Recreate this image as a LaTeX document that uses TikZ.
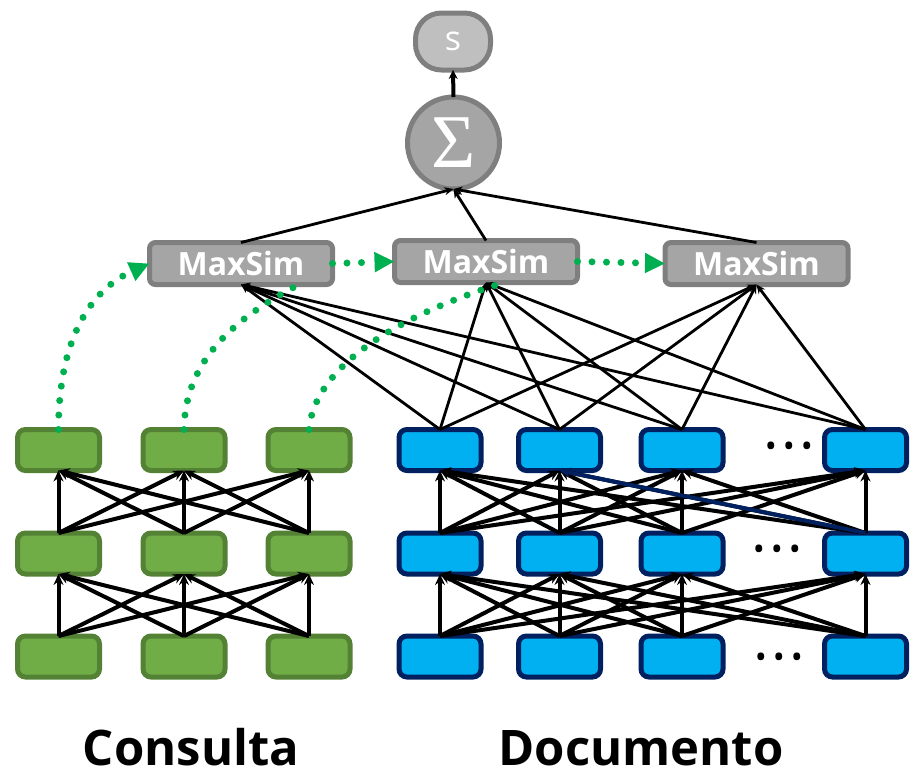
\documentclass[tikz,border=0pt]{standalone}
\usepackage{fontspec}
\newfontfamily\osans{Open Sans}
\newfontfamily\lserif{Liberation Serif}
\usetikzlibrary{arrows.meta,calc}
\definecolor{gfill}{HTML}{70AD47}
\definecolor{gline}{HTML}{548235}
\definecolor{bfill}{HTML}{00B0F0}
\definecolor{bline}{HTML}{002060}
\definecolor{mfill}{HTML}{A5A5A5}
\definecolor{mline}{HTML}{7F7F7F}
\definecolor{sfill}{HTML}{BFBFBF}
\definecolor{dotg}{HTML}{00B050}
\newcommand\threedots{\makebox[18pt]{•}\makebox[18pt]{•}\makebox[18pt]{•}}
\begin{document}
\begin{tikzpicture}[x=1pt,y=-1pt,
 qbox/.style={draw=gline,fill=gfill,line width=5pt,rounded corners=8pt,minimum width=82pt,minimum height=41pt,inner sep=0pt,outer sep=0pt},
 dbox/.style={qbox,draw=bline,fill=bfill},
 maxbox/.style={draw=mline,fill=mfill,line width=5pt,rounded corners=6pt,minimum width=183pt,minimum height=42pt,inner sep=0pt,outer sep=0pt,text=white,font=\osans\bfseries\fontsize{32}{32}\selectfont},
 layer/.style={line width=4pt,-{Stealth[length=11pt,width=10pt]}},
 simedge/.style={line width=2.8pt,-{Stealth[length=9pt,width=8pt]}},
 greendot/.style={dotg,line width=7pt,line cap=round,dash pattern=on 0pt off 14.5pt},
 garrow/.style={greendot,-{Triangle[length=20pt,width=19pt]}},
 lbl/.style={font=\osans\bfseries\fontsize{49}{49}\selectfont,anchor=base,inner sep=0pt},
 ell/.style={font=\osans\fontsize{32}{32}\selectfont,inner sep=0pt}
]
\useasboundingbox (0,0) rectangle (911,772);
% query boxes
\foreach \c/\x in {1/58.5,2/184,3/309}
  \foreach \r/\y in {t/450,m/553.5,b/656.5}
    \node[qbox] (q\r\c) at (\x,\y) {};
% document boxes
\foreach \c/\x in {1/440,2/559.5,3/682,4/865.5}
  \foreach \r/\y in {t/450,m/553.5,b/656.5}
    \node[dbox] (d\r\c) at (\x,\y) {};
% ellipses
\node[ell] (e1) at (789,450) {\threedots};
\node[ell] (e2) at (777,553) {\threedots};
\node[ell] (e3) at (779,661) {\threedots};
% MaxSim
\node[maxbox] (M1) at (241,263.5) {MaxSim};
\node[maxbox] (M2) at (486,261.5) {MaxSim};
\node[maxbox] (M3) at (756.5,263.5) {MaxSim};
% sum and score
\node[circle,draw=mline,fill=mfill,line width=5pt,minimum size=92pt,inner sep=0pt,outer sep=0pt,text=white,font=\lserif\fontsize{76}{76}\selectfont] (sig) at (453.5,143) {Σ};
\node[rectangle,rounded corners=26pt,draw=mline,fill=sfill,line width=5pt,minimum width=75pt,minimum height=57pt,inner sep=0pt,outer sep=0pt,text=white,font=\osans\fontsize{34}{34}\selectfont] (s) at (453,41.5) {s};
% layer edges
\foreach \i in {1,2,3}
  \foreach \j in {1,2,3} {
    \draw[layer] (qb\i.north) -- (qm\j.south);
    \draw[layer] (qm\i.north) -- (qt\j.south);
  }
\foreach \i in {1,2,3,4}
  \foreach \j in {1,2,3,4} {
    \draw[layer] (db\i.north) -- (dm\j.south);
    \draw[layer] (dm\i.north) -- (dt\j.south);
  }
\draw[layer,draw=bline,fill=bline] (dm4.north) -- (dt2.south);
% doc to MaxSim
\foreach \i in {1,2,3,4}
  \foreach \m in {1,2,3}
    \draw[simedge] (dt\i.north) -- (M\m.south);
% MaxSim to sum
\foreach \m in {1,2,3}
  \draw[simedge] (M\m.north) -- (sig.south);
\draw[line width=4pt,-{Stealth[length=9pt,width=9pt]}] (sig.north) -- (s.south);
% green dotted
\coordinate (m1end) at ($(M1.south)+(58,0)$);
\coordinate (m2end) at ($(M2.south)+(18,0)$);
\draw[garrow] (qt1.north) .. controls (58.5,340) and (90,290) .. (M1.west);
\draw[greendot] (qt2.north) .. controls (185,360) and (235,318) .. (m1end);
\draw[greendot] (qt3.north) .. controls (315,365) and (400,315) .. (m2end);
\draw[garrow] (M1.east) -- (M2.west);
\draw[garrow] (M2.east) -- (M3.west);
% labels
\node[lbl] (lq) at (191,765) {Consulta};
\node[lbl] (ld) at (641,765) {Documento};
\end{tikzpicture}
\end{document}
